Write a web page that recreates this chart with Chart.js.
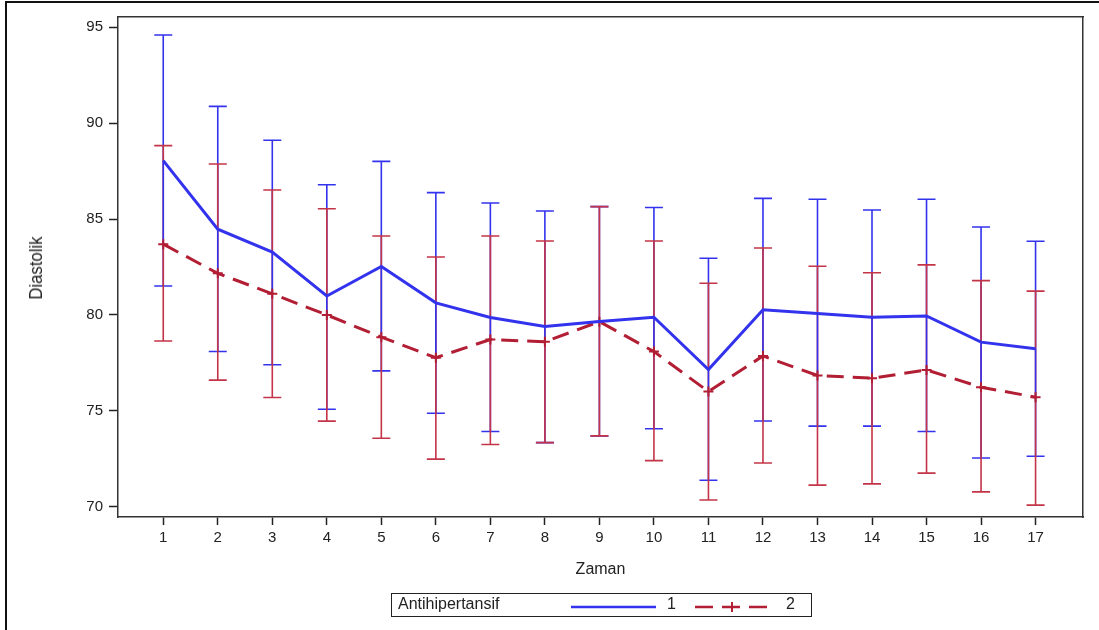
<!DOCTYPE html>
<html>
<head>
<meta charset="utf-8">
<script src="https://cdn.jsdelivr.net/npm/chart.js@4/dist/chart.umd.min.js"></script>
<style>
  html, body { margin: 0; padding: 0; background: #fff; }
  #wrap { position: relative; width: 1099px; height: 630px; overflow: hidden; }
  #frame { position: absolute; left: 5px; top: 1px; width: 1200px; height: 700px;
           border-left: 2px solid #111; border-top: 2px solid #111; }
  canvas { position: absolute; left: 0; top: 0; }
  #ytitle { position: absolute; left: 36px; top: 268px; width: 0; height: 0; }
  #ytitle span { position: absolute; left: 0; top: 0; white-space: nowrap;
                 font-family: "Liberation Sans", Arial, sans-serif; font-size: 19px; color: #222;
                 transform: translate(-50%, -50%) rotate(-90deg) scaleX(0.88); }
  #legend { position: absolute; left: 391px; top: 593px; width: 419px; height: 22px;
            border: 1px solid #222; font-family: "Liberation Sans", Arial, sans-serif;
            font-size: 16px; color: #222; }
  #legend span { position: absolute; top: 1px; }
  #legend svg { position: absolute; top: 0; }
</style>
</head>
<body>
<div id="wrap">
  <div id="frame"></div>
  <canvas id="chart" width="1099" height="630"></canvas>
  <div id="ytitle"><span>Diastolik</span></div>
  <div id="legend">
    <span style="left:6px">Antihipertansif</span>
    <svg style="left:179px" width="86" height="22"><line x1="0" y1="13" x2="85" y2="13" stroke="#3333ee" stroke-width="2.5"/></svg>
    <span style="left:275px">1</span>
    <svg style="left:303px" width="75" height="22">
      <line x1="0" y1="13" x2="74" y2="13" stroke="#b21e34" stroke-width="2.5" stroke-dasharray="18,9"/>
      <line x1="37" y1="8" x2="37" y2="18" stroke="#b21e34" stroke-width="2"/>
    </svg>
    <span style="left:394px">2</span>
  </div>
</div>
<script>
// time points (Zaman)
const zaman = [1, 2, 3, 4, 5, 6, 7, 8, 9, 10, 11, 12, 13, 14, 15, 16, 17];

// Antihipertansif = 1 : mean, lower and upper limit
const mean1 = [88.05, 84.47, 83.28, 80.99, 82.53, 80.63, 79.87, 79.4, 79.66, 79.88, 77.15, 80.27, 80.08, 79.88, 79.95, 78.58, 78.23];
const low1  = [81.51, 78.09, 77.4, 75.08, 77.08, 74.87, 73.92, 73.34, 73.69, 74.06, 71.38, 74.47, 74.2, 74.2, 73.92, 72.54, 72.63];
const high1 = [94.6, 90.88, 89.11, 86.79, 88.01, 86.38, 85.84, 85.42, 85.65, 85.6, 82.96, 86.08, 86.03, 85.47, 86.03, 84.59, 83.84];

// Antihipertansif = 2
const mean2 = [83.69, 82.17, 81.1, 80.0, 78.84, 77.77, 78.72, 78.6, 79.65, 78.09, 76.0, 77.86, 76.84, 76.7, 77.13, 76.23, 75.71];
const low2  = [78.64, 76.6, 75.69, 74.46, 73.57, 72.48, 73.24, 73.34, 73.69, 72.4, 70.35, 72.28, 71.12, 71.19, 71.75, 70.77, 70.08];
const high2 = [88.83, 87.87, 86.52, 85.54, 84.12, 83.02, 84.12, 83.86, 85.65, 83.86, 81.65, 83.49, 82.54, 82.2, 82.61, 81.79, 81.24];

const yTicks = [70, 75, 80, 85, 90, 95];

const BLUE = "#3333ee";
const RED_LINE = "#b21e34";
const RED_BAR = "#c43448";

const pts = (ys) => zaman.map((x, i) => ({ x, y: ys[i] }));

// error bars: drawn as half bars so the overlaps look like the original
const errorBars = {
  id: "errorBars",
  beforeDatasetsDraw(chart) {
    const { ctx, scales: { x, y } } = chart;
    const cap = 9;
    const half = (from, to, color) => {
      ctx.strokeStyle = color;
      ctx.lineWidth = 1.6;
      zaman.forEach((v, i) => {
        const px = x.getPixelForValue(v);
        const y0 = y.getPixelForValue(from[i]);
        const y1 = y.getPixelForValue(to[i]);
        ctx.beginPath();
        ctx.moveTo(px, y0);
        ctx.lineTo(px, y1);
        ctx.moveTo(px - cap, y1);
        ctx.lineTo(px + cap, y1);
        ctx.stroke();
      });
    };
    ctx.save();
    half(mean1, high1, BLUE);
    half(mean2, high2, RED_BAR);
    half(mean1, low1, BLUE);
    half(mean2, low2, RED_BAR);
    ctx.restore();
  },
};

const font = { family: "'Liberation Sans', Arial, sans-serif", size: 15 };

new Chart(document.getElementById("chart"), {
  type: "line",
  data: {
    datasets: [
      {
        label: "1",
        data: pts(mean1),
        borderColor: BLUE,
        borderWidth: 3,
        pointRadius: 0,
        tension: 0,
      },
      {
        label: "2",
        data: pts(mean2),
        borderColor: RED_LINE,
        borderWidth: 3,
        borderDash: [17, 9],
        pointStyle: "cross",
        pointRadius: 5,
        pointBorderWidth: 2,
        pointBorderColor: RED_LINE,
        tension: 0,
      },
    ],
  },
  options: {
    responsive: false,
    animation: false,
    devicePixelRatio: 1,
    layout: { padding: { left: 20, top: 17, right: 16, bottom: 47 } },
    plugins: { legend: { display: false }, tooltip: { enabled: false } },
    scales: {
      x: {
        type: "linear",
        min: 0.17,
        max: 17.87,
        afterBuildTicks: (s) => { s.ticks = zaman.map((v) => ({ value: v })); },
        afterFit: (s) => { s.height = 66; },
        ticks: { font, color: "#222", padding: 4 },
        grid: { drawOnChartArea: false, tickLength: 8, color: "#222", tickWidth: 1.5 },
        border: { color: "#333", width: 1.5 },
        title: { display: true, text: "Zaman", font: { ...font, size: 16 }, color: "#222" },
      },
      y: {
        min: 69.46,
        max: 95.54,
        afterBuildTicks: (s) => { s.ticks = yTicks.map((v) => ({ value: v })); },
        afterFit: (s) => { s.width = 98; },
        ticks: { font, color: "#222", padding: 6 },
        grid: { drawOnChartArea: false, tickLength: 9, color: "#222", tickWidth: 1.5 },
        border: { color: "#333", width: 1.5 },
      },
      x2: {
        position: "top", type: "linear", min: 0, max: 1,
        ticks: { display: false }, grid: { display: false },
        border: { color: "#333", width: 1.5 }, afterFit: (s) => { s.height = 0; },
      },
      y2: {
        position: "right", min: 0, max: 1,
        ticks: { display: false }, grid: { display: false },
        border: { color: "#333", width: 1.5 }, afterFit: (s) => { s.width = 0; },
      },
    },
  },
  plugins: [errorBars],
});
</script>
</body>
</html>
